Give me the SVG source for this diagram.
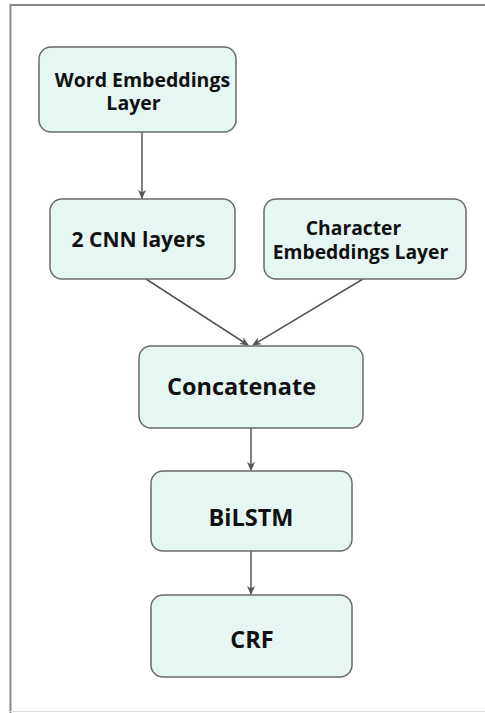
<svg xmlns="http://www.w3.org/2000/svg" width="485" height="713" viewBox="0 0 485 713">
<style>
.n rect{fill:#e6f6f3;stroke:#6a6a6a;stroke-width:1.5}
.n text{font-family:"Open Sans","Noto Sans",sans-serif;font-weight:bold;fill:#111;text-anchor:middle}
.c line{stroke:#555;stroke-width:1.5}
</style>
<defs>
<marker id="ah" viewBox="0 0 10 10" refX="9" refY="5" markerWidth="9" markerHeight="9" markerUnits="userSpaceOnUse" orient="auto">
<path d="M0,0.5 L10,5 L0,9.5 L3,5 Z" fill="#555"/>
</marker>
</defs>
<rect x="0" y="0" width="485" height="713" fill="#fff"/>
<g id="frame">
<line x1="10.5" y1="5" x2="485" y2="5" stroke="#888" stroke-width="2"/>
<line x1="10.5" y1="4" x2="10.5" y2="713" stroke="#888" stroke-width="2"/>
<line x1="10" y1="711.5" x2="485" y2="711.5" stroke="#ddd" stroke-width="1"/>
</g>
<g class="c" id="connectors">
<line x1="142" y1="132" x2="142" y2="198" marker-end="url(#ah)"/>
<line x1="146" y1="279" x2="248" y2="345" marker-end="url(#ah)"/>
<line x1="363" y1="279" x2="253" y2="345" marker-end="url(#ah)"/>
<line x1="251" y1="428" x2="251" y2="470" marker-end="url(#ah)"/>
<line x1="251" y1="551" x2="251" y2="594" marker-end="url(#ah)"/>
</g>
<g class="n" id="word">
<rect x="39" y="47" width="197" height="85" rx="12"/>
<text x="142.5" y="87" font-size="19.5">Word Embeddings</text>
<text x="133.5" y="110" font-size="19.5">Layer</text>
</g>
<g class="n" id="cnn">
<rect x="50" y="199" width="185" height="80" rx="12"/>
<text x="138.5" y="247" font-size="21">2 CNN layers</text>
</g>
<g class="n" id="char">
<rect x="264" y="199" width="202" height="80" rx="12"/>
<text x="353.5" y="235" font-size="19.3">Character</text>
<text x="360.5" y="259" font-size="19.3">Embeddings Layer</text>
</g>
<g class="n" id="concat">
<rect x="139" y="346" width="224" height="82" rx="12"/>
<text x="241.5" y="395" font-size="23.5">Concatenate</text>
</g>
<g class="n" id="bilstm">
<rect x="151" y="471" width="201" height="80" rx="12"/>
<text x="251" y="526" font-size="23.5">BiLSTM</text>
</g>
<g class="n" id="crf">
<rect x="151" y="595" width="201" height="82" rx="12"/>
<text x="252" y="648" font-size="23.5">CRF</text>
</g>
</svg>
